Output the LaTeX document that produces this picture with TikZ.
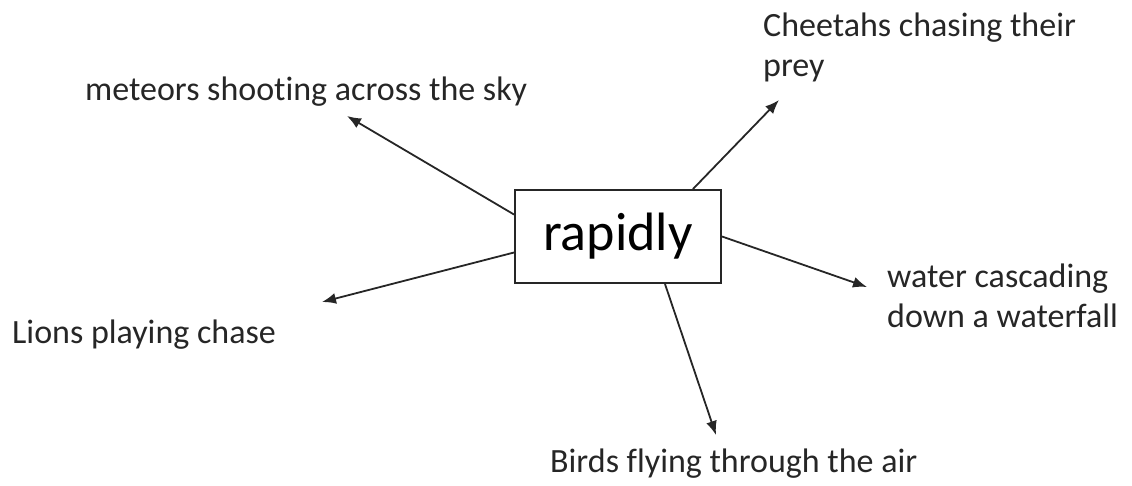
\documentclass[tikz,border=0pt]{standalone}
\usepackage{fontspec}
\setmainfont[Ligatures={NoCommon}]{Carlito}
\usetikzlibrary{arrows.meta}
\begin{document}
\begin{tikzpicture}[x=1pt,y=-1pt,
  label/.style={anchor=base west,inner sep=0pt,font=\fontsize{34}{40}\selectfont,align=left,text=black!85},
  conn/.style={line width=1.8pt,draw=black!85,-{Latex[length=14pt,width=11pt]}}]
\useasboundingbox (0,0) rectangle (1132,485);
\node[draw=black!85,line width=2pt,minimum width=206pt,minimum height=93pt,inner sep=0pt,
      font=\fontsize{54}{60}\selectfont] (box) at (618,236.5) {rapidly};
\node[label] (met) at (85,100) {meteors shooting across the sky};
\node[label] (che) at (763,76) {Cheetahs chasing their\\prey};
\node[label] (lio) at (12,343) {Lions playing chase};
\node[label] (wat) at (887,327) {water cascading\\down a waterfall};
\node[label] (bir) at (550,472) {Birds flying through the air};
\coordinate (tmet) at (347,116);
\coordinate (tche) at (779,100);
\coordinate (tlio) at (322,302);
\coordinate (twat) at (867,287);
\coordinate (tbir) at (716,435);
\draw[conn] ([yshift=22pt]box.west) -- (tmet);
\draw[conn] ([yshift=-16pt]box.west) -- (tlio);
\draw[conn] ([xshift=75pt]box.north) -- (tche);
\draw[conn] (box.east) -- (twat);
\draw[conn] ([xshift=47pt]box.south) -- (tbir);
\end{tikzpicture}
\end{document}
